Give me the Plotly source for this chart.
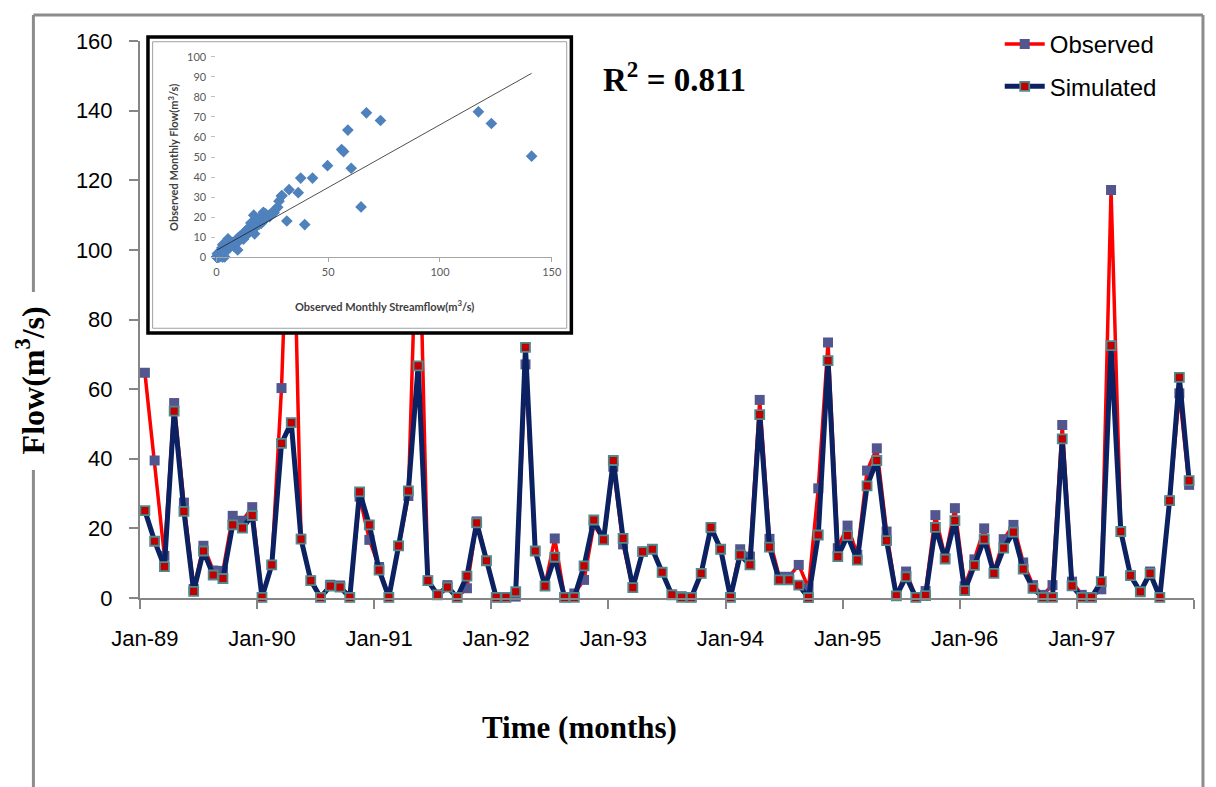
import numpy as np
import plotly.graph_objects as go

# ---------------- data ----------------
month_names = ["Jan", "Feb", "Mar", "Apr", "May", "Jun",
               "Jul", "Aug", "Sep", "Oct", "Nov", "Dec"]
years = ["89", "90", "91", "92", "93", "94", "95", "96", "97"]
months = [f"{m}-{y}" for y in years for m in month_names]

observed = [
    64.7, 39.5, 12.1, 56.0, 27.4, 2.6, 15.0, 7.9, 7.8, 23.6, 22.2, 26.1,
    0.2, 9.5, 60.3, 141.0, 17.0, 5.0, 0.2, 3.8, 3.6, 0.2, 29.1, 16.7,
    8.9, 0.2, 15.0, 29.3, 123.0, 5.0, 1.0, 3.7, 0.2, 2.8, 22.0, 10.7,
    0.2, 0.2, 0.4, 67.1, 13.5, 3.5, 17.1, 0.2, 1.3, 5.2, 21.0, 16.7,
    37.7, 15.4, 3.0, 13.3, 14.0, 7.4, 1.0, 0.5, 0.2, 7.1, 20.0, 14.0,
    0.2, 14.0, 11.9, 56.9, 17.0, 6.1, 6.1, 9.5, 2.8, 31.5, 73.4, 14.3,
    20.8, 12.4, 36.6, 43.0, 19.1, 0.6, 7.6, 0.2, 2.0, 23.8, 11.5, 25.8,
    3.4, 11.1, 20.0, 7.5, 16.9, 21.0, 10.2, 3.7, 0.9, 3.7, 49.7, 4.7,
    0.9, 0.2, 2.5, 117.2, 19.0, 6.5, 2.0, 7.6, 0.2, 28.0, 58.8, 32.5,
]
simulated = [
    25.1, 16.3, 9.0, 53.7, 24.9, 1.9, 13.5, 6.6, 5.6, 21.0, 20.1, 23.7,
    0.2, 9.5, 44.4, 50.4, 16.9, 5.0, 0.2, 3.4, 3.1, 0.2, 30.5, 21.0,
    8.0, 0.2, 15.0, 30.8, 66.7, 5.0, 0.9, 3.1, 0.2, 6.3, 21.6, 10.7,
    0.2, 0.2, 1.8, 72.0, 13.5, 3.4, 11.7, 0.2, 0.2, 9.2, 22.4, 16.7,
    39.5, 17.1, 3.0, 13.3, 14.0, 7.4, 0.9, 0.2, 0.2, 7.1, 20.3, 14.0,
    0.2, 12.4, 9.5, 52.7, 14.6, 5.2, 5.2, 3.7, 0.1, 18.1, 68.2, 11.9,
    17.9, 10.9, 32.2, 39.5, 16.5, 0.6, 6.1, 0.2, 0.7, 20.3, 11.2, 22.2,
    2.1, 9.4, 16.9, 7.1, 14.3, 18.9, 8.3, 2.8, 0.2, 0.2, 45.7, 3.5,
    0.2, 0.2, 4.7, 72.5, 19.1, 6.4, 1.8, 7.1, 0.2, 28.0, 63.4, 33.7,
]
y_ticks = [0, 20, 40, 60, 80, 100, 120, 140, 160]
inset_x_ticks = [0, 50, 100, 150]
inset_y_ticks = [0, 10, 20, 30, 40, 50, 60, 70, 80, 90, 100]
r2_text = "R<sup>2</sup> = 0.811"

# ---------------- derived ----------------
pos = list(range(len(months)))
major_vals = pos[::12]
major_text = months[::12]
boundary_vals = [p - 0.5 for p in pos[::12]] + [pos[-1] + 0.5]

obs_arr = np.array(observed)
sim_arr = np.array(simulated)
slope, intercept = np.polyfit(obs_arr, sim_arr, 1)
fit_x = [float(obs_arr.min()), float(obs_arr.max())]
fit_y = [slope * v + intercept for v in fit_x]

# ---------------- layout geometry (pixels -> paper) ----------------
W, H = 1216, 787
ML, MR, MT, MB = 140, 18, 30, 189
PW, PH = W - ML - MR, H - MT - MB


def px(xp):
    return (xp - ML) / PW


def py(yp):
    return (H - MB - yp) / PH


SANS = "Liberation Sans Narrow, Arial Narrow, Liberation Sans, Arial"
SERIF = "Liberation Serif, Times New Roman, serif"
SMALL = "Lato, Carlito, Calibri, sans-serif"
GRAY = "#868686"

fig = go.Figure()

fig.add_trace(go.Scatter(
    x=pos, y=observed, name="Observed", mode="lines+markers",
    line=dict(color="#FF0000", width=3.5),
    marker=dict(symbol="square", size=10, color="#52568F"),
    cliponaxis=False, legendgroup="a",
))
fig.add_trace(go.Scatter(
    x=pos, y=simulated, name="Simulated", mode="lines+markers",
    line=dict(color="#0B2161", width=5),
    marker=dict(symbol="square", size=9, color="#C00000",
                line=dict(color="#4E8B8E", width=1.8)),
    cliponaxis=False, legendgroup="b",
))

# white box behind inset (subplot whose background hides the main lines)
fig.add_trace(go.Scatter(x=[], y=[], xaxis="x2", yaxis="y2",
                         showlegend=False, hoverinfo="skip"))

# inset scatter
fig.add_trace(go.Scatter(
    x=observed, y=simulated, mode="markers", xaxis="x3", yaxis="y3",
    marker=dict(symbol="diamond", size=9, color="#4F81BD"),
    showlegend=False, cliponaxis=False,
))
fig.add_trace(go.Scatter(
    x=fit_x, y=fit_y, mode="lines", xaxis="x3", yaxis="y3",
    line=dict(color="#222222", width=0.8), showlegend=False,
))

fig.update_layout(
    width=W, height=H,
    margin=dict(l=ML, r=MR, t=MT, b=MB),
    paper_bgcolor="white", plot_bgcolor="white",
    font=dict(family=SANS, color="black"),
    showlegend=True,
    legend=dict(x=px(1003), y=py(22), xanchor="left", yanchor="top",
                font=dict(family=SANS, size=24, color="black"),
                bgcolor="rgba(0,0,0,0)", tracegroupgap=8,
                itemwidth=40),
    xaxis=dict(
        range=[-0.5, pos[-1] + 0.5], domain=[0, 1],
        tickmode="array", tickvals=major_vals, ticktext=major_text,
        ticks="", showline=True, linecolor=GRAY, linewidth=2,
        showgrid=False, zeroline=False,
        tickfont=dict(family=SANS, size=22, color="black"),
        ticklabelstandoff=20,
        minor=dict(tickmode="array", tickvals=boundary_vals,
                   ticks="outside", ticklen=9, tickwidth=2,
                   tickcolor=GRAY, showgrid=False),
    ),
    yaxis=dict(
        range=[0, 160], domain=[0, py(41)],
        tickmode="array", tickvals=y_ticks,
        ticks="outside", ticklen=9, tickwidth=2, tickcolor=GRAY,
        showline=True, linecolor=GRAY, linewidth=2,
        showgrid=False, zeroline=False,
        tickfont=dict(family=SANS, size=22, color="black"),
        ticklabelstandoff=12,
    ),
    xaxis2=dict(domain=[px(148), px(573)], anchor="y2", visible=False,
                range=[0, 1]),
    yaxis2=dict(domain=[py(333), py(37)], anchor="x2", visible=False,
                range=[0, 1]),
    xaxis3=dict(
        domain=[px(216.7), px(553.3)], anchor="y3", range=[0, 150],
        tickmode="array", tickvals=inset_x_ticks,
        ticks="outside", ticklen=4, tickcolor="#A6A6A6",
        showline=True, linecolor="#A6A6A6", linewidth=1,
        showgrid=False, zeroline=False,
        tickfont=dict(family=SMALL, size=11, color="#595959"),
    ),
    yaxis3=dict(
        domain=[py(257.3), py(56.7)], anchor="x3", range=[0, 100],
        tickmode="array", tickvals=inset_y_ticks,
        ticks="outside", ticklen=4, tickcolor="#BFBFBF",
        showline=False, showgrid=False, zeroline=False,
        tickfont=dict(family=SMALL, size=11, color="#595959"),
        ticklabelstandoff=3,
    ),
)

# outer frame (left side interrupted by the axis title)
frame = dict(type="line", xref="paper", yref="paper",
             line=dict(color="#8C8C8C", width=3), layer="below")
fig.add_shape(**frame, x0=px(33), x1=px(1207), y0=py(15), y1=py(15))
fig.add_shape(**frame, x0=px(1207), x1=px(1207), y0=py(15), y1=py(800))
fig.add_shape(**frame, x0=px(33), x1=px(33), y0=py(15), y1=py(292))
fig.add_shape(**frame, x0=px(33), x1=px(33), y0=py(470), y1=py(800))

# inset frame
fig.add_shape(type="rect", xref="x2 domain", yref="y2 domain",
              x0=0, x1=1, y0=0, y1=1, layer="above",
              line=dict(color="black", width=3.5))
fig.add_shape(type="rect", xref="x2 domain", yref="y2 domain",
              x0=0.011, x1=0.989, y0=0.016, y1=0.984, layer="above",
              line=dict(color="#A0A0A0", width=1))

# text
centered = dict(xref="paper", yref="paper", showarrow=False,
                xanchor="center", yanchor="middle")
fig.add_annotation(text="<b>" + r2_text + "</b>", x=px(677), y=py(77),
                   font=dict(family=SERIF, size=33, color="black"),
                   **centered)
fig.add_annotation(text="<b>Time (months)</b>", x=px(581), y=py(727),
                   font=dict(family=SERIF, size=31, color="black"),
                   **centered)
fig.add_annotation(text="<b>Flow(m<sup>3</sup>/s)</b>", x=px(30), y=py(380),
                   textangle=-90,
                   font=dict(family=SERIF, size=32, color="black"),
                   **centered)
fig.add_annotation(text="<b>Observed Monthly Streamflow(m<sup>3</sup>/s)</b>",
                   x=px(385), y=py(305),
                   font=dict(family=SMALL, size=11, color="#404040"),
                   **centered)
fig.add_annotation(text="<b>Observed Monthly Flow(m<sup>3</sup>/s)</b>",
                   x=px(173), y=py(157), textangle=-90,
                   font=dict(family=SMALL, size=11, color="#404040"),
                   **centered)

fig.write_html("out.html")
